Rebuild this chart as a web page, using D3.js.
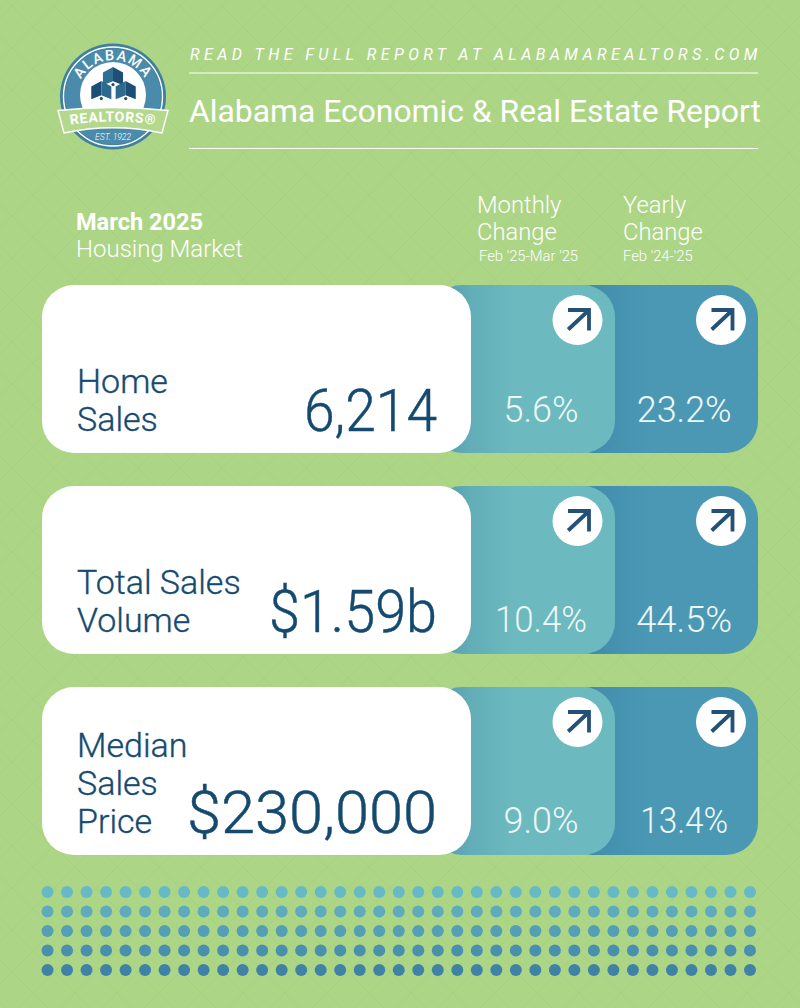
<!DOCTYPE html>
<html>
<head>
<meta charset="utf-8">
<style>
  html, body { margin: 0; padding: 0; background: #add586; }
  svg { display: block; }
  text { font-family: Roboto, sans-serif; }
</style>
<script src="https://cdn.jsdelivr.net/npm/d3@7"></script>
</head>
<body>
<div id="plot"></div>
<script>
const metrics = ['Home Sales', 'Total Sales Volume', 'Median Sales Price'];
const metricLines = [['Home', 'Sales'], ['Total Sales', 'Volume'], ['Median', 'Sales', 'Price']];
const metricValues = ['6,214', '$1.59b', '$230,000'];
const monthlyChange = [5.6, 10.4, 9.0];
const yearlyChange = [23.2, 44.5, 13.4];
const dotRows = [0, 1, 2, 3, 4];
const dotCols = d3.range(37);

const width = 800;
const height = 1008;
const navy = '#154a70';
const teal = '#6cb9bf';
const blue = '#4b98b5';
const white = '#ffffff';

// Roboto's digits are wider or narrower than the original face, so the figures get fitted
const valueWidths = [133, 168, 250];
const monthlyWidths = [75, 92, 75];
const yearlyWidths = [95, 96, 88];
// the percentages in the first card sit higher than in the other two
const changeBaselines = [136.7, 146.3, 146.3];

const svg = d3.select('#plot').append('svg')
    .attr('width', width)
    .attr('height', height);

const defs = svg.append('defs');

// faint diamond texture behind everything
const texture = defs.append('pattern')
    .attr('id', 'texture')
    .attr('width', 84)
    .attr('height', 84)
    .attr('patternUnits', 'userSpaceOnUse')
    .attr('patternTransform', 'translate(12,6)');
texture.append('path')
    .attr('d', 'M0 0L84 84M84 0L0 84M42 0L84 42M42 0L0 42M0 42L42 84M84 42L42 84')
    .attr('stroke', '#a6cf80')
    .attr('stroke-width', 0.8)
    .attr('fill', 'none');

const fade = (id, stops) => {
    const g = defs.append('linearGradient').attr('id', id);
    stops.forEach(([o, c]) => g.append('stop').attr('offset', o).attr('stop-color', c));
};
fade('tealFade', [[0, '#4d98aa'], [0.22, '#62adb7'], [0.45, teal], [1, teal]]);
fade('blueFade', [[0, '#3a84a2'], [0.27, '#4592b0'], [0.45, blue], [1, blue]]);

svg.append('rect').attr('width', width).attr('height', height).attr('fill', '#add586');
svg.append('rect').attr('width', width).attr('height', height).attr('fill', 'url(#texture)');

// header
svg.append('text')
    .attr('x', 190).attr('y', 60)
    .attr('fill', white).attr('font-size', 16).attr('font-style', 'italic')
    .attr('letter-spacing', 4.43)
    .text('READ THE FULL REPORT AT ALABAMAREALTORS.COM');
svg.append('line').attr('x1', 189).attr('x2', 758).attr('y1', 73).attr('y2', 73)
    .attr('stroke', white).attr('stroke-width', 1.2);
svg.append('text')
    .attr('x', 189).attr('y', 122)
    .attr('fill', white).attr('font-size', 31).attr('font-weight', 400)
    .attr('textLength', 572).attr('lengthAdjust', 'spacingAndGlyphs')
    .text('Alabama Economic & Real Estate Report');
svg.append('line').attr('x1', 189).attr('x2', 758).attr('y1', 148.5).attr('y2', 148.5)
    .attr('stroke', white).attr('stroke-width', 1.2);

svg.append('text').attr('x', 76).attr('y', 230)
    .attr('fill', white).attr('font-size', 23).attr('font-weight', 700)
    .attr('textLength', 127).attr('lengthAdjust', 'spacingAndGlyphs')
    .text('March 2025');
svg.append('text').attr('x', 76).attr('y', 257)
    .attr('fill', white).attr('font-size', 24).attr('font-weight', 300)
    .text('Housing Market');

const colHeads = [
    {x: 477, lines: ['Monthly', 'Change'], sub: "Feb '25-Mar '25", subX: 479},
    {x: 623, lines: ['Yearly', 'Change'], sub: "Feb '24-'25", subX: 623}
];
colHeads.forEach(h => {
    h.lines.forEach((l, i) => {
        svg.append('text').attr('x', h.x).attr('y', 213 + i * 27)
            .attr('fill', white).attr('font-size', 23.8).attr('font-weight', 300)
            .text(l);
    });
    svg.append('text').attr('x', h.subX).attr('y', 261)
        .attr('fill', white).attr('font-size', 14.8).attr('font-weight', 300)
        .text(h.sub);
});

// logo
const logo = svg.append('g').attr('transform', 'translate(113,96.5)');
logo.append('circle').attr('r', 53).attr('fill', '#3f7f9f');
logo.append('circle').attr('r', 49.5).attr('fill', 'none').attr('stroke', white).attr('stroke-width', 1.4);
logo.append('circle').attr('r', 48).attr('fill', '#4a8bab');
logo.append('circle').attr('cy', -1.5).attr('r', 33).attr('fill', white);
defs.append('path').attr('id', 'logoArc').attr('d', 'M-34.3 12.5A36.5 36.5 0 1 1 34.3 12.5');
logo.append('text')
    .attr('fill', white).attr('font-size', 14.5).attr('font-weight', 500)
    .append('textPath').attr('href', '#logoArc').attr('startOffset', '50%')
    .attr('text-anchor', 'middle').attr('letter-spacing', 1.5)
    .text('ALABAMA');

// three little houses, drawn as two-tone cubes
const houses = [[0, -20, '#2f6f93', '#1d4f76'], [-11.7, -6, '#1d4f76', '#2c6a8e'], [12.7, -6, '#2c6a8e', '#1d4f76']];
houses.forEach(([hx, hy, leftFace, rightFace]) => {
    const house = logo.append('g').attr('transform', `translate(${hx},${hy}) scale(0.67)`);
    house.append('path').attr('d', 'M-15 -6L0 -14L0 7L-15 13Z').attr('fill', leftFace);
    house.append('path').attr('d', 'M0 -14L15 -6L15 13L0 7Z').attr('fill', rightFace);
    house.append('circle').attr('cy', 12).attr('r', 2.4).attr('fill', '#1d4f76');
});

// ribbon
logo.append('path')
    .attr('d', 'M-55 14Q0 8 55 14L49 36.5Q0 26 -49 36.5Z')
    .attr('fill', '#b4d98e').attr('stroke', white).attr('stroke-width', 1.4);
defs.append('path').attr('id', 'ribbonArc').attr('d', 'M-46 29Q0 21 46 29');
logo.append('text')
    .attr('fill', white).attr('font-size', 14).attr('font-weight', 700)
    .append('textPath').attr('href', '#ribbonArc').attr('startOffset', '50%')
    .attr('text-anchor', 'middle').attr('letter-spacing', 0.7)
    .text('REALTORS®');
logo.append('text').attr('y', 43).attr('text-anchor', 'middle')
    .attr('fill', white).attr('font-size', 8.5).attr('font-weight', 300).attr('font-style', 'italic')
    .text('EST. 1922');

// metric cards
const y = d3.scaleBand().domain(metrics).range([285, 855]).paddingInner(0.1642);
const cards = svg.selectAll('g.card').data(metrics).join('g')
    .attr('class', 'card')
    .attr('transform', d => `translate(0,${y(d)})`);
const cardH = y.bandwidth();
const radius = 32;

cards.append('rect').attr('x', 560).attr('width', 198).attr('height', cardH)
    .attr('rx', radius).attr('fill', 'url(#blueFade)');
cards.append('rect').attr('x', 430).attr('width', 185).attr('height', cardH)
    .attr('rx', radius).attr('fill', 'url(#tealFade)');
cards.append('rect').attr('x', 42).attr('width', 429).attr('height', cardH)
    .attr('rx', radius).attr('fill', white);

cards.each(function(d, i) {
    const card = d3.select(this);
    const lines = metricLines[i];
    lines.forEach((l, j) => {
        card.append('text').attr('x', 77)
            .attr('y', 146 - (lines.length - 1 - j) * 38)
            .attr('fill', navy).attr('stroke', navy).attr('stroke-width', 0.35)
            .attr('font-size', 34).attr('font-weight', 300)
            .text(l);
    });
    card.append('text').attr('x', 437 - valueWidths[i]).attr('y', 146)
        .attr('fill', navy).attr('stroke', navy).attr('stroke-width', 0.5)
        .attr('font-size', 60).attr('font-weight', 300)
        .attr('textLength', valueWidths[i]).attr('lengthAdjust', 'spacingAndGlyphs')
        .text(metricValues[i]);

    const changes = [monthlyChange[i], yearlyChange[i]];
    const changeWidths = [monthlyWidths[i], yearlyWidths[i]];
    [577.5, 721].forEach((cx, k) => {
        card.append('circle').attr('cx', cx).attr('cy', 35).attr('r', 25).attr('fill', white);
        card.append('path')
            .attr('transform', `translate(${cx},35)`)
            .attr('d', 'M-9.3 9.5L11 -9.5M-9.5 -10L11.5 -10L11.5 10.5')
            .attr('fill', 'none').attr('stroke', '#235177')
            .attr('stroke-width', 3.8);
        card.append('text')
            .attr('x', (k === 0 ? 541 : 684.2) - changeWidths[k] / 2)
            .attr('y', changeBaselines[i])
            .attr('fill', '#eef8f6').attr('font-size', 37).attr('font-weight', 300)
            .attr('textLength', changeWidths[k]).attr('lengthAdjust', 'spacingAndGlyphs')
            .text(changes[k].toFixed(1) + '%');
    });
});

// dot band along the bottom
const dotX = d3.scalePoint().domain(dotCols).range([47.5, 750]);
const dotY = d3.scalePoint().domain(dotRows).range([892, 970]);
const dotColor = d3.scaleLinear().domain([0, 4]).range(['#68b9c6', '#3f82a6']);
dotRows.forEach(r => {
    svg.append('g').selectAll('circle').data(dotCols).join('circle')
        .attr('cx', c => dotX(c))
        .attr('cy', dotY(r))
        .attr('r', 6)
        .attr('fill', dotColor(r));
});
</script>
</body>
</html>
